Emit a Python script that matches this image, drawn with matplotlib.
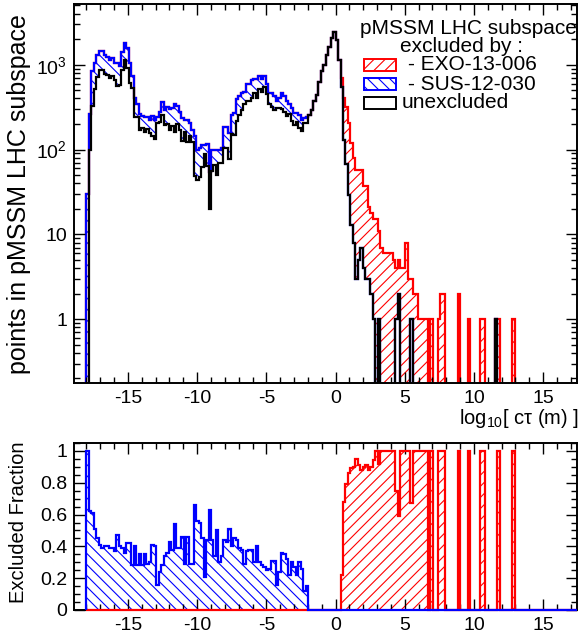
import numpy as np
import matplotlib.pyplot as plt
from matplotlib.patches import Rectangle
from matplotlib.transforms import Bbox, TransformedBbox
from matplotlib.ticker import MultipleLocator, FixedLocator, LogLocator, NullFormatter

plt.rcParams['font.family'] = 'Liberation Sans'
plt.rcParams['mathtext.fontset'] = 'custom'
plt.rcParams['mathtext.rm'] = 'Liberation Sans'
plt.rcParams['mathtext.it'] = 'Liberation Sans:italic'
plt.rcParams['axes.unicode_minus'] = False
plt.rcParams['hatch.linewidth'] = 0.8

# histogram binning: 200 bins of log10(c tau / m) from -18 to 18
edges = np.linspace(-18, 18, 201)

# all points per bin (top envelope of the stack), bins 0..171
n_points = [
    30, 260, 835, 1050, 1310, 1470, 1440, 1310, 1250, 1145,
    1200, 1050, 1050, 955, 1430, 1800, 1580, 1050, 730, 405,
    340, 260, 247, 245, 245, 225, 247, 225, 245, 280,
    360, 295, 315, 300, 305, 348, 330, 280, 235, 225,
    225, 205, 172, 143, 100, 105, 112, 112, 115, 55,
    100, 100, 100, 100, 105, 185, 185, 158, 257, 270,
    390, 425, 470, 480, 590, 600, 660, 670, 670, 740,
    670, 740, 600, 465, 460, 425, 370, 410, 465, 425,
    370, 340, 310, 270, 270, 257, 225, 235, 240, 257,
    290, 370, 445, 620, 835, 1000, 1310, 1640, 2060, 2400,
    1970, 1145, 700, 410, 320, 208, 120, 80, 58, 58,
    58, 37, 37, 21, 18, 15, 15, 11, 7, 6,
    6, 6, 6, 5, 4, 5, 4, 4, 8, 3,
    3, 2, 2, 1, 1, 1, 1, 0, 1, 0,
    0, 1, 2, 2, 0, 0, 0, 0, 0, 2,
    0, 0, 0, 1, 0, 0, 0, 0, 1, 1,
    0, 0, 0, 0, 1, 1, 0, 0, 0, 0,
    0, 1,
]

# fraction excluded by SUS-12-030, bins 0..88
frac_sus = [
    1.0, 0.62, 0.61, 0.51, 0.45, 0.41, 0.39, 0.40, 0.40, 0.39,
    0.39, 0.37, 0.47, 0.40, 0.39, 0.36, 0.42, 0.42, 0.28, 0.40,
    0.28, 0.35, 0.28, 0.35, 0.29, 0.30, 0.41, 0.40, 0.16, 0.24,
    0.28, 0.34, 0.36, 0.43, 0.38, 0.54, 0.39, 0.39, 0.46, 0.29,
    0.46, 0.29, 0.29, 0.66, 0.56, 0.55, 0.45, 0.21, 0.44, 0.63,
    0.44, 0.34, 0.50, 0.30, 0.34, 0.44, 0.43, 0.51, 0.40, 0.45,
    0.44, 0.39, 0.38, 0.29, 0.37, 0.38, 0.38, 0.30, 0.40, 0.30,
    0.28, 0.27, 0.25, 0.26, 0.31, 0.31, 0.16, 0.24, 0.36, 0.35,
    0.32, 0.22, 0.30, 0.27, 0.22, 0.30, 0.26, 0.12, 0.15,
]

# fraction excluded by EXO-13-006, bins 102..171
exo_first_bin = 102
frac_exo = [
    0.22, 0.68, 0.79, 0.86, 0.89, 0.90, 0.95, 0.91, 0.88, 0.90,
    0.91, 0.88, 0.90, 0.94, 1.0, 0.92, 1.0, 1.0, 1.0, 1.0,
    1.0, 1.0, 0.75, 0.59, 1.0, 1.0, 1.0, 1.0, 0.67, 1.0,
    1.0, 1.0, 1.0, 1.0, 1.0, 0, 1.0, 0, 0, 1.0,
    1.0, 1.0, 0, 0, 0, 0, 0, 1.0, 0, 0,
    0, 1.0, 0, 0, 0, 0, 1.0, 1.0, 0, 0,
    0, 0, 0, 1.0, 0, 0, 0, 0, 0, 1.0,
]

nbins = len(edges) - 1
total = np.zeros(nbins)
total[:len(n_points)] = n_points
f_sus = np.zeros(nbins)
f_sus[:len(frac_sus)] = frac_sus
f_exo = np.zeros(nbins)
f_exo[exo_first_bin:exo_first_bin + len(frac_exo)] = frac_exo

unexcl = np.rint(total * (1 - f_sus - f_exo))
stack_sus = unexcl + np.rint(total * f_sus)
stack_exo = stack_sus + np.rint(total * f_exo)

def floor(a):
    # empty bins drawn below the log axis, like ROOT does
    return np.where(a > 0, a, 1e-3)

W, H = 582, 639
fig = plt.figure(figsize=(W / 100, H / 100), dpi=100)
ax1 = fig.add_axes([74 / W, 1 - 383 / H, (577 - 74) / W, (383 - 4) / H])
ax2 = fig.add_axes([74 / W, 1 - 610 / H, (577 - 74) / W, (610 - 443) / H])

xlo, xhi = -18.9, 17.45
lw = 1.6

# top panel: stacked distributions
ax1.stairs(floor(stack_exo), edges, baseline=floor(stack_sus), fill=True,
           facecolor='none', edgecolor='red', hatch='///', linewidth=0)
ax1.stairs(floor(stack_sus), edges, baseline=floor(unexcl), fill=True,
           facecolor='none', edgecolor='blue', hatch='\\\\\\', linewidth=0)
ax1.stairs(floor(stack_exo), edges, baseline=1e-3, color='red', lw=lw)
ax1.stairs(floor(stack_sus), edges, baseline=1e-3, color='blue', lw=lw)
ax1.stairs(floor(unexcl), edges, baseline=1e-3, color='black', lw=lw)
ax1.set_yscale('log')
ax1.set_ylim(0.177, 5200)

# bottom panel: excluded fractions
ax2.stairs(f_exo, edges, fill=True, facecolor='none', edgecolor='red',
           hatch='///', linewidth=0)
ax2.stairs(f_sus, edges, fill=True, facecolor='none', edgecolor='blue',
           hatch='\\\\\\', linewidth=0)
clip = TransformedBbox(Bbox([[xlo, -0.05], [xhi, 1.1]]), ax2.transData)
for frac, col in ((f_exo, 'red'), (f_sus, 'blue')):
    line = ax2.stairs(frac, edges, baseline=0, color=col, lw=lw, zorder=3)
    line.set_clip_box(clip)
ax2.set_ylim(0, 1.05)

for ax in (ax1, ax2):
    ax.set_xlim(xlo, xhi)
    ax.xaxis.set_major_locator(MultipleLocator(5))
    ax.xaxis.set_minor_locator(MultipleLocator(1))
    ax.tick_params(which='both', direction='in', top=True, right=True,
                   labelsize=14, width=1, pad=5)
    ax.tick_params(which='major', length=8)
    ax.tick_params(which='minor', length=4)
    for s in ax.spines.values():
        s.set_linewidth(1.4)

ax1.yaxis.set_major_locator(FixedLocator([1, 10, 100, 1000]))
ax1.set_yticklabels(['1', '10', '$10^{2}$', '$10^{3}$'])
ax1.yaxis.set_minor_locator(LogLocator(base=10, subs=np.arange(2, 10), numticks=20))
ax1.yaxis.set_minor_formatter(NullFormatter())

ax2.yaxis.set_minor_locator(MultipleLocator(0.05))
ax2.set_yticks([0, 0.2, 0.4, 0.6, 0.8, 1.0])
ax2.set_yticklabels(['0', '0.2', '0.4', '0.6', '0.8', '1'])

def fx(x):
    return x / W

def fy(y):
    return 1 - y / H

fig.text(fx(19), fy(194), 'points in pMSSM LHC subspace', rotation=90,
         ha='center', va='center', fontsize=18)
fig.text(fx(19), fy(522), 'Excluded Fraction', rotation=90,
         ha='center', va='center', fontsize=14.5)
fig.text(fx(579), fy(424), 'log$_{10}$[ cτ (m) ]', ha='right',
         va='baseline', fontsize=14.5)

# legend
fig.text(fx(468), fy(29), 'pMSSM LHC subspace', ha='center', va='center', fontsize=15)
fig.text(fx(462), fy(47), 'excluded by :', ha='center', va='center', fontsize=15)
entries = [('red', '///', '- EXO-13-006', 65),
           ('blue', '\\\\\\', '- SUS-12-030', 84),
           ('black', None, 'unexcluded', 103)]
for col, hatch, label, yc in entries:
    box = Rectangle((fx(364), fy(yc + 6)), (396 - 364) / W, 12 / H,
                    transform=fig.transFigure, facecolor='none', edgecolor=col,
                    hatch=hatch, linewidth=1.4)
    fig.add_artist(box)
    x0 = 408 if label.startswith('-') else 402
    fig.text(fx(x0), fy(yc), label, ha='left', va='center', fontsize=15)

fig.savefig('out.png', dpi=100)
